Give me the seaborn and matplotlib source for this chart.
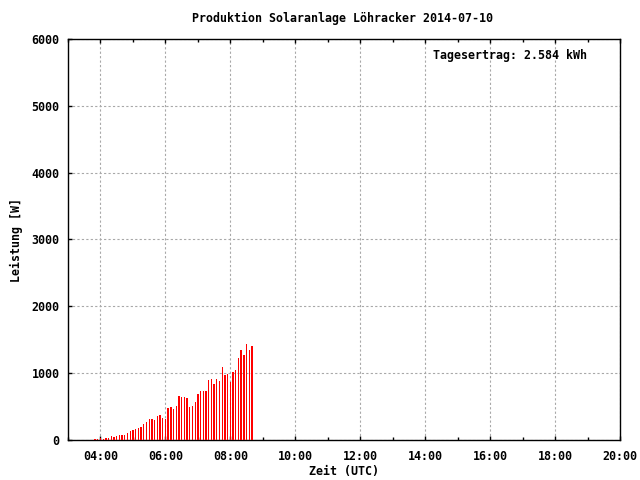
import numpy as np
import pandas as pd
import matplotlib
matplotlib.use('Agg')
import matplotlib.pyplot as plt
import seaborn as sns
from matplotlib.ticker import MultipleLocator, FuncFormatter

zeiten = ['03:50', '03:55', '04:00', '04:05', '04:10', '04:15', '04:20', '04:25',
          '04:30', '04:35', '04:40', '04:45', '04:50', '04:55', '05:00', '05:05',
          '05:10', '05:15', '05:20', '05:25', '05:30', '05:35', '05:40', '05:45',
          '05:50', '05:55', '06:00', '06:05', '06:10', '06:15', '06:20', '06:25',
          '06:30', '06:35', '06:40', '06:45', '06:50', '06:55', '07:00', '07:05',
          '07:10', '07:15', '07:20', '07:25', '07:30', '07:35', '07:40', '07:45',
          '07:50', '07:55', '08:00', '08:05', '08:10', '08:15', '08:20', '08:25',
          '08:30', '08:35', '08:40']
leistung = [20, 20, 25, 20, 35, 35, 60, 50,
            60, 75, 75, 75, 105, 135, 150, 165,
            180, 195, 240, 270, 315, 315, 300, 360,
            375, 330, 320, 480, 495, 465, 510, 660,
            645, 645, 630, 495, 510, 570, 690, 735,
            735, 735, 900, 915, 840, 915, 885, 1095,
            975, 990, 870, 1020, 1050, 1230, 1350, 1275,
            1440, 1350, 1410]

titel = 'Produktion Solaranlage Löhracker 2014-07-10'
ertrag = 'Tagesertrag: 2.584 kWh'

df = pd.DataFrame({'zeit': zeiten, 'leistung': leistung})
df['stunde'] = pd.to_timedelta(df['zeit'] + ':00').dt.total_seconds() / 3600

sns.set_style('white')
plt.rcParams['font.family'] = ['DejaVu Sans Mono']
plt.rcParams['font.weight'] = 'bold'
plt.rcParams['font.size'] = 8.4
plt.rcParams['text.color'] = 'black'
plt.rcParams['axes.labelcolor'] = 'black'
plt.rcParams['xtick.color'] = 'black'
plt.rcParams['ytick.color'] = 'black'

fig = plt.figure(figsize=(6.4, 4.8), dpi=100)
ax = fig.add_axes([68 / 640, 40 / 480, 552 / 640, 401 / 480])

sns.barplot(data=df, x='stunde', y='leistung', native_scale=True, width=0.5,
            color='#ff0000', saturation=1, errorbar=None, linewidth=0,
            edgecolor='none', ax=ax, zorder=3)

ax.set_xlim(3, 20)
ax.set_ylim(0, 6000)
ax.xaxis.set_major_locator(MultipleLocator(2))
ax.xaxis.set_minor_locator(MultipleLocator(1))
ax.xaxis.set_major_formatter(FuncFormatter(lambda v, p: '%02d:00' % int(round(v))))
ax.yaxis.set_major_locator(MultipleLocator(1000))
ax.yaxis.set_major_formatter(FuncFormatter(lambda v, p: '%d' % v))

ax.grid(True, which='major', color='#a8a8a8', linestyle=(0, (2, 2)), linewidth=0.8, zorder=1)
ax.set_axisbelow(True)
for s in ax.spines.values():
    s.set_color('black')
    s.set_linewidth(1.0)
    s.set_visible(True)

ax.tick_params(axis='x', which='both', direction='in', top=True, bottom=True,
               length=3, width=1, pad=7, colors='black')
ax.tick_params(axis='x', which='minor', length=2)
ax.tick_params(axis='y', which='both', direction='in', left=True, right=False,
               length=3, width=1, pad=6, colors='black')

ax.set_xlabel('Zeit (UTC)', fontweight='bold', va='center', color='black')
ax.xaxis.set_label_coords(0.5, -32 / 401)
ax.set_ylabel('Leistung [W]', fontweight='bold', va='center', color='black')
ax.yaxis.set_label_coords(-52 / 552, 0.5)

fig.text(343 / 640, 1 - 18 / 480, titel, ha='center', va='center', fontweight='bold',
         color='black')
ax.text(0.940, 0.960, ertrag, transform=ax.transAxes, ha='right', va='center',
        fontweight='bold', color='black')

fig.savefig('out.png', dpi=100)
